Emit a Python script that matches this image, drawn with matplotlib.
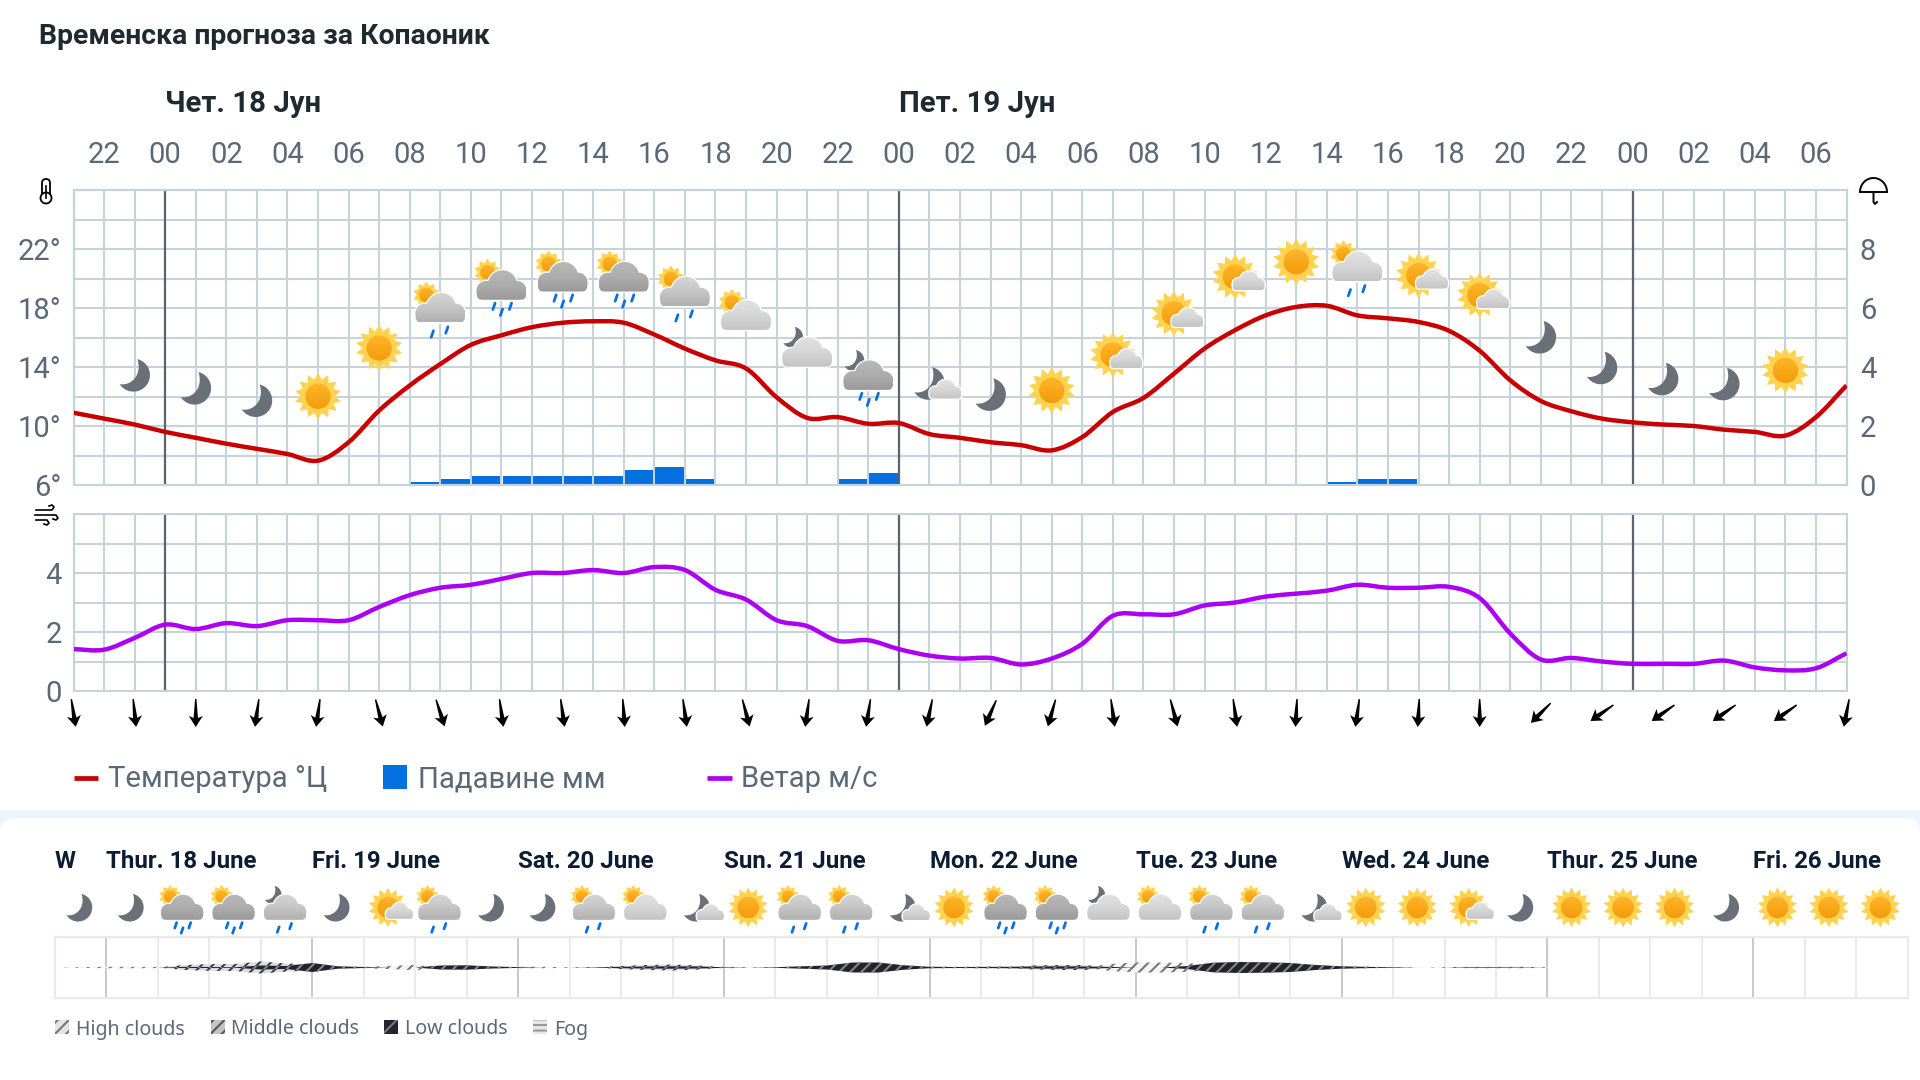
import numpy as np
import matplotlib
matplotlib.use("Agg")
import matplotlib.pyplot as plt
from matplotlib.colors import LinearSegmentedColormap
from matplotlib.patches import Circle, FancyBboxPatch, PathPatch, Polygon, Rectangle
from matplotlib.path import Path

plt.rcParams['font.family'] = ['Roboto', 'DejaVu Sans']
plt.rcParams['hatch.linewidth'] = 1.5

W, H = 1920, 1080

## hourly forecast, first value is 21:00
temperature = [10.9, 10.5, 10.1, 9.6, 9.2, 8.8, 8.45, 8.1, 7.65, 8.9, 11.05, 12.75, 14.2, 15.5, 16.15,
               16.7, 17.0, 17.1, 17.0, 16.2, 15.25, 14.45, 13.9, 11.95, 10.55, 10.6, 10.15, 10.2, 9.45,
               9.2, 8.9, 8.7, 8.35, 9.25, 10.95, 11.9, 13.55, 15.25, 16.5, 17.5, 18.07, 18.15, 17.5,
               17.3, 17.05, 16.45, 15.1, 13.1, 11.7, 11.0, 10.5, 10.25, 10.1, 10.0, 9.75, 9.6, 9.35,
               10.6, 12.75]
wind = [1.42, 1.4, 1.8, 2.25, 2.1, 2.3, 2.2, 2.4, 2.4, 2.4, 2.85, 3.25, 3.5, 3.6, 3.8, 4.0, 4.0, 4.1,
        4.0, 4.2, 4.1, 3.43, 3.1, 2.4, 2.2, 1.7, 1.72, 1.42, 1.2, 1.1, 1.12, 0.9, 1.1, 1.6, 2.55, 2.6,
        2.6, 2.9, 3.0, 3.2, 3.3, 3.4, 3.6, 3.5, 3.5, 3.53, 3.15, 1.95, 1.07, 1.12, 1.0, 0.92, 0.92,
        0.92, 1.03, 0.8, 0.7, 0.77, 1.28]
rain_hours = [11, 12, 13, 14, 15, 16, 17, 18, 19, 20, 25, 26, 41, 42, 43]
rain_mm = [0.1, 0.2, 0.3, 0.3, 0.3, 0.3, 0.3, 0.5, 0.6, 0.2, 0.2, 0.4, 0.1, 0.2, 0.2]
midnights = [3, 27, 51]
hour_labels = ['22', '00', '02', '04', '06', '08', '10', '12', '14', '16', '18', '20', '22', '00', '02',
               '04', '06', '08', '10', '12', '14', '16', '18', '20', '22', '00', '02', '04', '06']
date_labels = ['Чет. 18 Јун', 'Пет. 19 Јун']
temp_ticks = [6, 10, 14, 18, 22]
rain_ticks = [0, 2, 4, 6, 8]
wind_ticks = [0, 2, 4]

# wind arrows every two hours, degrees from straight down
arrow_angle = [9, 6, 0, -8, -8, 15, 18, 8, 8, 4, 8, 15, -8, -9, -12, -24, -16, 8, 15, 8, -3, -8, -3, 0,
               -45, -55, -55, -55, -55, -11]

# weather symbols over the temperature line, one every two hours from hour 2
chart_icons = ['moon', 'moon', 'moon', 'sun', 'sun', 'rain2', 'rain3', 'rain3', 'rain3', 'rain2', 'cloud',
               'mooncloud', 'moonrain3', 'moonsmall', 'moon', 'sun', 'sunsmall', 'sunsmall', 'sunsmall',
               'sun', 'rain2lt', 'sunsmall', 'sunsmall', 'moon', 'moon', 'moon', 'moon', 'sun']
chart_icon_level = [13.45, 12.57, 11.73, 12.02, 15.29, 18.0, 19.54, 20.1, 20.1, 19.09, 17.5, 15.0, 13.43,
                    12.9, 12.14, 12.41, 14.83, 17.62, 20.11, 21.13, 20.8, 20.22, 18.87, 16.03, 13.95,
                    13.2, 12.86, 13.77]

# nine day outlook, four symbols per day
day_labels = ['W', 'Thur. 18 June', 'Fri. 19 June', 'Sat. 20 June', 'Sun. 21 June', 'Mon. 22 June',
              'Tue. 23 June', 'Wed. 24 June', 'Thur. 25 June', 'Fri. 26 June']
day_icons = ['moon', 'moon', 'rain3', 'rain3', 'moonrain2', 'moon', 'sunsmall', 'rain2', 'moon', 'moon',
             'rain2', 'cloud', 'moonsmall', 'sun', 'rain2', 'rain2', 'moonsmall', 'sun', 'rain3', 'rain3',
             'mooncloud', 'cloud', 'rain2', 'rain2', 'moonsmall', 'sun', 'sun', 'sunsmall', 'moon', 'sun',
             'sun', 'sun', 'moon', 'sun', 'sun', 'sun']

# half thickness of the cloud layers, one value every half column up to column 29
high_clouds = [0, .4, .7, .7, .6, 0, 0, 0, 0, 0, 0, 0, .7, 1.6, 2.6, 0, 0, 0, .7, .7, .3, .5, 0, 0, 0, 0, .8,
               .2, .5, .6, 0, 0, 0, 0, .7, .7, .8, 1, 0, 0, 0, 3.5, 5, 5, 4.5, 2, 0, 0, 0, 0, 0, .8, .5, 0,
               .4, .7, .7, .7, .3]
middle_clouds = [0, 0, 0, 0, 0, 2.5, 3.3, 3.5, 6, 4, 3, 0, 0, 0, 0, 1.5, 1.5, 0, 0, 0, 0, 0, 1.5, 2.5, 3, 2, 0,
                 0, 0, 0, 1.5, 3, 3, 0, 0, 0, 0, 0, 2, 2.5, 2.5, 0, 0, 0, 0, 3.5, 0, 0, 0, 0, 0, 0, 0, 0,
                 0, 0, 0, 0, 0]
low_clouds = [0, 0, 0, 0, 0, .6, .5, .3, 2, 1.5, 4.5, 1.2, .5, 0, 0, 2, 2.2, 1, .4, 0, 0, .2, .7, 1, 1.2, 1,
              .3, 0, .3, 1.2, 2, 5, 5, 2.2, .7, .5, .6, .7, 1, 1.2, 1, .6, 0, 0, 1.5, 4.8, 5.5, 5.2, 4.5,
              2.5, 1.2, .6, .3, 0, 0, .3, .3, .2, 0]
cloud_legend = ['High clouds', 'Middle clouds', 'Low clouds', 'Fog']

GRID = '#c6d3db'
TEXT = '#5b6876'
DARK = '#1f2930'
NAVY = '#0c1c33'
RAIN = '#0570e0'


def px_axes(left, top, width, height):
    return fig.add_axes([left / W, 1 - (top + height) / H, width / W, height / H])


def smooth_path(x, y):
    # Catmull-Rom segments as cubic beziers so the curve goes through each reading
    pts = np.column_stack([x, y])
    tang = np.gradient(pts, axis=0)
    verts = [pts[0]]
    codes = [Path.MOVETO]
    for i in range(len(pts) - 1):
        verts += [pts[i] + tang[i] / 3, pts[i + 1] - tang[i + 1] / 3, pts[i + 1]]
        codes += [Path.CURVE4] * 3
    return Path(verts, codes)


fig = plt.figure(figsize=(W / 100, H / 100), dpi=100, facecolor='white')

# everything placed in plain pixels goes on these two full size layers
under = fig.add_axes([0, 0, 1, 1], zorder=0)
over = fig.add_axes([0, 0, 1, 1], zorder=5)
for layer in (under, over):
    layer.set_xlim(0, W)
    layer.set_ylim(H, 0)
    layer.set_autoscale_on(False)
    layer.axis('off')

under.add_patch(Rectangle((0, 810), W, 30, color='#eef4fd', lw=0))
under.add_patch(FancyBboxPatch((0, 818), W, 300, boxstyle='round,pad=0,rounding_size=14', fc='white', lw=0))

## Temperature and rain
hours = np.arange(len(temperature))
ax = px_axes(73.5, 190, 1773, 295)
ax_rain = ax.twinx()
ax.set_zorder(2)
ax_rain.set_zorder(1)
ax.patch.set_visible(False)

ax.set_xlim(0, 58)
ax.set_ylim(6, 26)
ax_rain.set_ylim(0, 10)

ax_rain.vlines(hours, 0, 10, color=GRID, lw=1.5, zorder=1)
ax_rain.hlines(np.arange(0, 11), 0, 58, color=GRID, lw=1.5, zorder=1)
for m in midnights:
    ax_rain.axvline(m, color='#59646f', lw=1.6, zorder=2)
ax_rain.bar(np.array(rain_hours) + 0.5, rain_mm, width=0.93, color=RAIN, zorder=3)

ax.add_patch(PathPatch(smooth_path(hours, temperature), fill=False, ec='#c80000', lw=3.2, zorder=4))

ax.xaxis.tick_top()
ax.set_xticks(hours[1:58:2], hour_labels)
ax.set_yticks(temp_ticks, ['%d°' % t for t in temp_ticks])
ax_rain.set_yticks(rain_ticks, [str(t) for t in rain_ticks])
ax.tick_params(axis='x', length=0, pad=15, labelsize=21, labelcolor=TEXT)
ax.tick_params(axis='y', length=0, pad=8.5, labelsize=21, labelcolor=TEXT)
ax_rain.tick_params(axis='y', length=0, pad=9.5, labelsize=21, labelcolor=TEXT)
for a in (ax, ax_rain):
    for s in a.spines.values():
        s.set_color(GRID)
        s.set_linewidth(1.5)

## Wind
ax_wind = px_axes(73.5, 514, 1773, 177)
ax_wind.set_xlim(0, 58)
ax_wind.set_ylim(0, 6)
ax_wind.vlines(hours, 0, 6, color=GRID, lw=1.5, zorder=1)
ax_wind.hlines(np.arange(0, 7), 0, 58, color=GRID, lw=1.5, zorder=1)
for m in midnights:
    ax_wind.axvline(m, color='#59646f', lw=1.6, zorder=2)
ax_wind.add_patch(PathPatch(smooth_path(hours, wind), fill=False, ec='#ab00f2', lw=3.2, zorder=4))
ax_wind.set_xticks([])
ax_wind.set_yticks(wind_ticks, [str(t) for t in wind_ticks])
ax_wind.tick_params(axis='y', length=0, pad=8.5, labelsize=21, labelcolor=TEXT)
for s in ax_wind.spines.values():
    s.set_color(GRID)
    s.set_linewidth(1.5)

## Cloud layers
ax_cl = px_axes(55, 937, 1852.7, 61)
ax_cl.set_xlim(0, 36)
ax_cl.set_ylim(-30.5, 30.5)
ax_cl.vlines(np.arange(37), -30.5, 30.5, color='#ebe9ea', lw=1.4, zorder=1)
ax_cl.vlines(np.arange(1, 37, 4), -30.5, 30.5, color='#c9c9cb', lw=1.4, zorder=1)
cols = np.arange(len(high_clouds)) * 0.5
ax_cl.fill_between(cols, -np.array(high_clouds), high_clouds, facecolor='#f4f4f4', edgecolor='#77777c',
                   hatch='///', lw=0, zorder=2)
ax_cl.fill_between(cols, -np.array(middle_clouds), middle_clouds, facecolor='#dedee0', edgecolor='#3a3a42',
                   hatch='///', lw=0, zorder=3)
ax_cl.fill_between(cols, -np.array(low_clouds), low_clouds, facecolor='#222229', edgecolor='#85858c',
                   hatch='///', lw=0, zorder=4)
ax_cl.set_xticks([])
ax_cl.set_yticks([])
for s in ax_cl.spines.values():
    s.set_color('#ebe9ea')
    s.set_linewidth(1.6)


## Weather symbols, drawn in pixels with y pointing down
def gradient_fill(patch, colors, z):
    b = patch.get_path().get_extents(patch.get_patch_transform())
    cmap = LinearSegmentedColormap.from_list('g', colors)
    im = over.imshow(np.linspace(0, 1, 64).reshape(-1, 1), cmap=cmap, aspect='auto', origin='upper',
                     extent=(b.x0, b.x1, b.y1, b.y0), zorder=z)
    im.set_clip_path(patch)


def draw_sun(x, y, r, z=6, spikes=14):
    a = np.arange(spikes * 2) * np.pi / spikes
    rad = np.where(np.arange(spikes * 2) % 2 == 0, r, r * 0.72)
    over.add_patch(Polygon(np.column_stack([x + rad * np.sin(a), y - rad * np.cos(a)]), fc='#ffd24f', lw=0, zorder=z))
    orb = Circle((x, y), r * 0.54, fc='none', lw=0, zorder=z)
    over.add_patch(orb)
    gradient_fill(orb, ['#fdb62a', '#f49b0c'], z + 0.1)


def draw_moon(x, y, s, z=6):
    t = np.radians(np.linspace(-76, 147, 40))
    outer = np.column_stack([16.5 * np.cos(t), 16.5 * np.sin(t)])
    u = np.linspace(0, 1, 20)[:, None]
    p0, p1, p2, p3 = map(np.array, [(-14, 9), (-3, 11), (9, 1), (4, -16)])
    inner = (1 - u) ** 3 * p0 + 3 * (1 - u) ** 2 * u * p1 + 3 * (1 - u) * u ** 2 * p2 + u ** 3 * p3
    pts = (np.vstack([outer, inner]) + [-1.2, 0]) * s + [x, y]
    over.add_patch(Polygon(pts, fc='#6a7078', lw=0, zorder=z))


def draw_cloud(x, y, s, colors, z=7):
    # outline is the top envelope of three circles over a flat base
    circles = [(-15.5, 5.2, 9.5), (1, -0.5, 14.5), (15.5, 5.2, 9.5)]
    xs = np.linspace(-25, 25, 100)
    tops = []
    for xv in xs:
        vals = [cy - np.sqrt(r ** 2 - (xv - cx) ** 2) for cx, cy, r in circles if abs(xv - cx) <= r]
        tops.append(min(vals) if vals else 14.5)
    pts = np.column_stack([xs, tops])
    pts = np.vstack([pts, [[24.5, 11], [22.5, 14], [19, 14.5], [-19, 14.5], [-22.5, 14], [-24.5, 11]]]) * s + [x, y]
    body = Polygon(pts, fc='white', ec='white', lw=1.8, zorder=z)
    over.add_patch(body)
    gradient_fill(body, colors, z + 0.1)


def draw_drops(x, y, s, n):
    spots = {2: [(-8, 26), (6.5, 22)], 3: [(-7.5, 21), (9, 21), (0, 27)]}[n]
    for dx, dy in spots:
        over.plot([x + (dx + 1.1) * s, x + (dx - 1.1) * s], [y + (dy - 3.2) * s, y + (dy + 3.2) * s],
                  color=RAIN, lw=2.0, solid_capstyle='round', zorder=8)


LIGHT = ['#e2e2e2', '#d6d6d6', '#c4c4c4']
MID = ['#d6d6d6', '#c6c6c6', '#b0b0b0']
GREY = ['#b8b8b8', '#adadad', '#9a9a9a']


def draw_icon(kind, x, y, s):
    if kind == 'sun':
        draw_sun(x, y, 23.5 * s)
    elif kind == 'moon':
        draw_moon(x, y, s)
    elif kind == 'sunsmall':
        draw_sun(x, y, 23 * s)
        draw_cloud(x + 13.5 * s, y + 4 * s, 0.64 * s, LIGHT)
    elif kind == 'moonsmall':
        draw_moon(x, y, s)
        draw_cloud(x + 16 * s, y + 6 * s, 0.64 * s, LIGHT)
    elif kind == 'cloud':
        draw_sun(x - 14 * s, y - 13 * s, 13.5 * s, spikes=10)
        draw_cloud(x, y, s, LIGHT)
    elif kind == 'mooncloud':
        draw_moon(x - 14 * s, y - 15 * s, 0.65 * s)
        draw_cloud(x, y, s, LIGHT)
    elif kind.startswith('moonrain'):
        draw_moon(x - 14 * s, y - 15 * s, 0.65 * s)
        n = int(kind[-1])
        draw_cloud(x, y, s, GREY if n == 3 else MID)
        draw_drops(x, y, s, n)
    else:
        draw_sun(x - 14 * s, y - 13 * s, 13.5 * s, spikes=10)
        n = int(kind[4])
        draw_cloud(x, y, s, GREY if n == 3 else (LIGHT if kind.endswith('lt') else MID))
        draw_drops(x, y, s, n)


for i, (kind, level) in enumerate(zip(chart_icons, chart_icon_level)):
    px, py = ax.transData.transform((2 + 2 * i, level))
    draw_icon(kind, px, H - py, 1.0)

for i, kind in enumerate(day_icons):
    px, _ = ax_cl.transData.transform((i + 0.47, 0))
    draw_icon(kind, px, 907.5, 0.85)


# Wind direction arrows under the wind panel
def draw_arrow(x, y, angle):
    shape = np.array([(-0.7, -14), (0.7, -14), (2.2, 5), (7, 3), (0, 14), (-7, 3), (-2.2, 5)], float)
    a = np.radians(angle)
    rot = np.array([[np.cos(a), np.sin(a)], [-np.sin(a), np.cos(a)]])
    over.add_patch(Polygon(shape @ rot.T + [x, y], fc='black', lw=0, zorder=6))


for i, angle in enumerate(arrow_angle):
    px, _ = ax_wind.transData.transform((2 * i, 0))
    draw_arrow(px, 713, angle)

## Small panel symbols
over.add_patch(FancyBboxPatch((42, 179), 8, 20, boxstyle='round,pad=0,rounding_size=4', fc='white', ec='black', lw=1.3, zorder=6))
over.add_patch(Circle((46, 198), 5.5, fc='white', ec='black', lw=1.3, zorder=7))
over.plot([46, 46], [186, 198], color='black', lw=1.2, zorder=8)

t = np.linspace(np.pi, 0, 40)
over.plot(1873.5 + 13.5 * np.cos(t), 192 - 14 * np.sin(t), color='black', lw=1.4, zorder=6)
over.plot([1860, 1887], [192, 192], color='black', lw=1.4, zorder=6)
over.plot([1873.5, 1873.5, 1875, 1877], [192, 202, 204, 202], color='black', lw=1.4, zorder=6)

over.plot([36, 52, 54, 52, 49], [510, 510, 507, 505, 506], color='black', lw=1.2, zorder=6)
over.plot([35, 56, 58, 56, 53], [515, 515, 518, 520, 519], color='black', lw=1.2, zorder=6)
over.plot([36, 47, 49, 47, 44], [520, 520, 523, 525, 524], color='black', lw=1.2, zorder=6)

## Titles and date labels
over.text(39, 36.5, 'Временска прогноза за Копаоник', fontsize=20.4, fontweight='bold', color=DARK, va='center')
for m, label in zip(midnights, date_labels):
    px, _ = ax.transData.transform((m, 0))
    over.text(px, 104, label, fontsize=21.2, fontweight='bold', color=DARK, va='center')

## Legends
over.plot([73.5, 98], [777.5, 777.5], color='#c80000', lw=3.4, solid_capstyle='butt')
over.text(108, 779, 'Температура °Ц', fontsize=21.1, color=TEXT, va='center')
over.add_patch(Rectangle((383, 765), 24, 24, fc=RAIN, lw=0))
over.text(418, 779, 'Падавине мм', fontsize=21.2, color=TEXT, va='center')
over.plot([707, 732], [777.5, 777.5], color='#ab00f2', lw=3.4, solid_capstyle='butt')
over.text(741, 779, 'Ветар м/с', fontsize=21.1, color=TEXT, va='center')

for i, label in enumerate(day_labels):
    px, _ = ax_cl.transData.transform((max(i * 4 - 3, 0), 0))
    over.text(px, 862, label, fontsize=17.3, fontweight='bold', color=NAVY, va='center')

legend_x = [55, 211, 384, 533]
text_x = [76, 231, 405, 554]
legend_fc = ['#e4e4e4', '#c4c4c6', '#25252b', '#e8e8e8']
legend_ec = ['#77777c', '#55555c', '#777780', '#9a9a9a']
legend_hatch = ['///', '///', '//', '---']
for lx, tx, label, fc, ec, ht in zip(legend_x, text_x, cloud_legend, legend_fc, legend_ec, legend_hatch):
    over.add_patch(Rectangle((lx, 1020), 14, 14, fc=fc, ec=ec, hatch=ht, lw=0, zorder=6))
    over.text(tx, 1029.5, label, fontsize=14.1, color=TEXT, va='center', family='Noto Sans')

fig.savefig('out.png', dpi=100)
